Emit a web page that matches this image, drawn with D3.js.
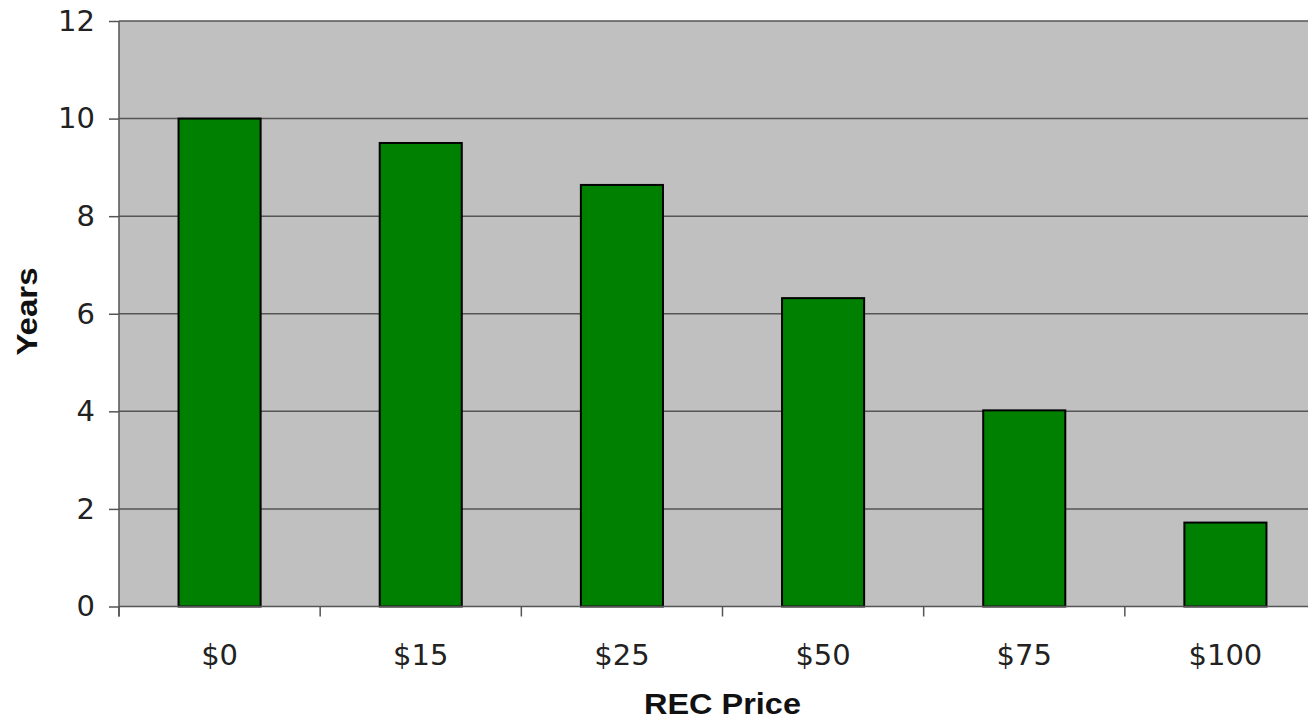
<!DOCTYPE html>
<html>
<head>
<meta charset="utf-8">
<script src="https://cdn.jsdelivr.net/npm/d3@7"></script>
<style>
  body { margin: 0; background: #fff; overflow: hidden; }
  svg { display: block; }
</style>
</head>
<body>
<div id="chart"></div>
<script>
const categories = ["$0", "$15", "$25", "$50", "$75", "$100"]; // REC price
const years = [10, 9.5, 8.64, 6.32, 4.02, 1.72]; // payback years
const yTicks = [0, 2, 4, 6, 8, 10, 12];

const width = 1308, height = 721;
// plot area runs a little past the right edge of the window, like the source
const margin = { top: 21, left: 119, bottom: 114.5 };
const plotRight = 1326;

const svg = d3.select("#chart")
  .append("svg")
  .attr("width", width)
  .attr("height", height);

const x = d3.scaleBand()
  .domain(categories)
  .range([margin.left, plotRight])
  .paddingInner(0.592)
  .paddingOuter(0.296);

const y = d3.scaleLinear()
  .domain([0, 12])
  .range([height - margin.bottom, margin.top]);

// grey plot background
svg.append("rect")
  .attr("x", margin.left)
  .attr("y", y(12))
  .attr("width", plotRight - margin.left)
  .attr("height", y(0) - y(12))
  .attr("fill", "#c0c0c0");

// gridlines
svg.selectAll(".grid")
  .data(yTicks.filter(d => d > 0))
  .enter()
  .append("line")
  .attr("class", "grid")
  .attr("x1", margin.left)
  .attr("x2", plotRight)
  .attr("y1", d => y(d))
  .attr("y2", d => y(d))
  .attr("stroke", "#555")
  .attr("stroke-width", 1.5);

// bars
svg.selectAll(".bar")
  .data(years)
  .enter()
  .append("rect")
  .attr("class", "bar")
  .attr("x", (d, i) => x(categories[i]))
  .attr("y", d => y(d))
  .attr("width", x.bandwidth())
  .attr("height", d => y(0) - y(d))
  .attr("fill", "#008000")
  .attr("stroke", "#000")
  .attr("stroke-width", 2);

// y axis
const yAxis = svg.append("g")
  .attr("transform", "translate(" + margin.left + ",0)")
  .call(d3.axisLeft(y).tickValues(yTicks).tickSize(10).tickPadding(14).tickSizeOuter(0));

// x axis, ticks sit on the band edges
const edges = categories.map(c => x(c) - x.step() * x.paddingInner() / 2);
const xAxis = svg.append("g")
  .attr("transform", "translate(0," + y(0) + ")");
xAxis.append("line")
  .attr("x1", margin.left).attr("x2", plotRight)
  .attr("stroke", "#555").attr("stroke-width", 1.5);
xAxis.selectAll(".xtick")
  .data(edges)
  .enter()
  .append("line")
  .attr("class", "xtick")
  .attr("x1", d => d).attr("x2", d => d)
  .attr("y1", 0).attr("y2", 10)
  .attr("stroke", "#555").attr("stroke-width", 1.5);
xAxis.selectAll(".xlabel")
  .data(categories)
  .enter()
  .append("text")
  .attr("class", "xlabel")
  .attr("x", d => x(d) + x.bandwidth() / 2)
  .attr("y", 58.5)
  .attr("text-anchor", "middle")
  .text(d => d);

yAxis.select(".domain").attr("stroke", "#555").attr("stroke-width", 1.5)
  .attr("d", "M0," + y(12) + "V" + (y(0) + 10));
yAxis.selectAll(".tick line").attr("stroke", "#555").attr("stroke-width", 1.5);

svg.selectAll(".tick text, .xlabel")
  .attr("font-family", "'DejaVu Sans', Verdana, sans-serif")
  .attr("font-size", 29)
  .attr("fill", "#222");

// axis titles (the source draws them slightly stretched sideways)
svg.append("text")
  .attr("transform", "translate(36.5,311.5) rotate(-90) scale(1.12,1)")
  .attr("text-anchor", "middle")
  .attr("font-family", "'Liberation Sans', Arial, sans-serif")
  .attr("font-weight", "bold")
  .attr("font-size", 29.5)
  .attr("fill", "#111")
  .text("Years");

svg.append("text")
  .attr("transform", "translate(" + ((margin.left + plotRight) / 2) + ",714) scale(1.12,1)")
  .attr("text-anchor", "middle")
  .attr("font-family", "'Liberation Sans', Arial, sans-serif")
  .attr("font-weight", "bold")
  .attr("font-size", 29)
  .attr("fill", "#111")
  .text("REC Price");
</script>
</body>
</html>
